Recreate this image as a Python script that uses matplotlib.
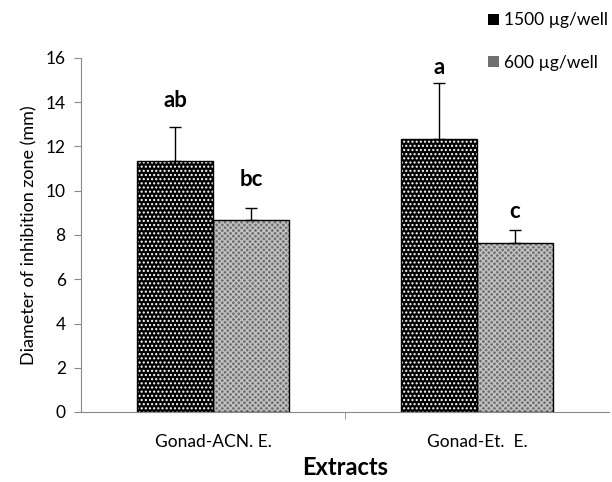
import numpy as np
import matplotlib.pyplot as plt
from matplotlib.patches import Patch

plt.rcParams['font.family'] = ['Lato', 'DejaVu Sans']
plt.rcParams['hatch.linewidth'] = 1.0

# data
extracts = ["Gonad-ACN. E.", "Gonad-Et.  E."]
dose_labels = ["1500 \u00b5g/well", "600 \u00b5g/well"]
high_dose = [11.34, 12.34]
high_err = [1.54, 2.53]
low_dose = [8.68, 7.64]
low_err = [0.55, 0.59]
high_letters = ["ab", "a"]
low_letters = ["bc", "c"]
high_letter_y = [14.06, 15.55]
low_letter_y = [10.5, 9.05]

fig = plt.figure(figsize=(6.12, 4.82), dpi=100)
ax = fig.add_axes([81/612, 70/482, 528/612, 354/482])

x = np.arange(len(extracts))
w = 0.287

dark = dict(color='black', edgecolor='white', hatch='....', linewidth=0)
light = dict(color='#707070', edgecolor='#c4c4c4', hatch='xxxxxx', linewidth=0)

# filled, hatched bars (hatch colour comes from edgecolor)
ax.bar(x - w/2, high_dose, w, zorder=2, **dark)
ax.bar(x + w/2, low_dose, w, zorder=2, **light)
# outlines
ax.bar(x - w/2, high_dose, w, fill=False, edgecolor='black', linewidth=1, zorder=3)
ax.bar(x + w/2, low_dose, w, fill=False, edgecolor='black', linewidth=1, zorder=3)

ax.errorbar(x - w/2, high_dose, yerr=[np.zeros(2), high_err], fmt='none',
            ecolor='black', elinewidth=1, capsize=4, capthick=1, zorder=4)
ax.errorbar(x + w/2, low_dose, yerr=[np.zeros(2), low_err], fmt='none',
            ecolor='black', elinewidth=1, capsize=4, capthick=1, zorder=4)

for i in range(len(x)):
    ax.text(x[i] - w/2, high_letter_y[i], high_letters[i],
            ha='center', va='center', fontsize=16, fontweight='bold')
    ax.text(x[i] + w/2, low_letter_y[i], low_letters[i],
            ha='center', va='center', fontsize=16, fontweight='bold')

ax.set_xlim(-0.5, 1.5)
ax.set_ylim(0, 16)
ax.set_yticks(np.arange(0, 17, 2))
ax.set_xticks(x)
ax.set_xticklabels(extracts, fontsize=12.5)
ax.set_xticks([0.5], minor=True)
ax.tick_params(axis='x', which='major', length=0, pad=16)
ax.tick_params(axis='x', which='minor', length=5, color='#888888')
ax.tick_params(axis='y', length=5, color='#888888', labelsize=12.5, pad=6)

for s in ['top', 'right']:
    ax.spines[s].set_visible(False)
for s in ['left', 'bottom']:
    ax.spines[s].set_color('#888888')

ax.set_ylabel("Diameter of inhibition zone (mm)", fontsize=13, labelpad=6)
ax.set_xlabel("Extracts", fontsize=17, fontweight='bold', labelpad=4)

handles = [Patch(**dark), Patch(**light)]
fig.legend(handles, dose_labels, loc='upper left', bbox_to_anchor=(476/612, 1),
           frameon=False, fontsize=12.5, handlelength=0.6, handleheight=0.6,
           handletextpad=0.3, labelspacing=1.55, borderaxespad=0.3)

fig.savefig("out.png", dpi=100)
